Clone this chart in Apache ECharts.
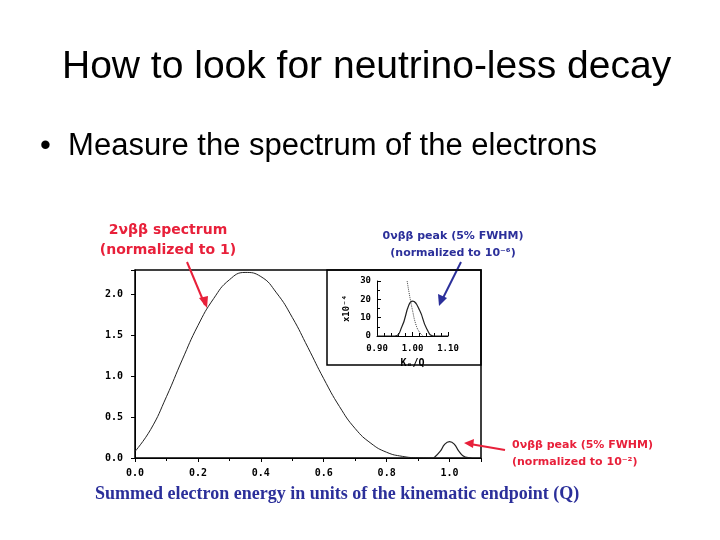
<!DOCTYPE html>
<html lang="en">
<head>
<meta charset="UTF-8">
<title>Neutrino-less decay</title>
<script src="https://cdn.jsdelivr.net/npm/echarts@6/dist/echarts.min.js"></script>
<style>
    *{margin:0;padding:0;}
    html,body{width:100%;height:100%;background:#fff;}
    .main{width:720px;height:540px;}
</style>
</head>
<body>
<div class="main"></div>
<script>
    // 2vbb spectrum (x in units of Q)
    let specX = [0,0.05,0.1,0.15,0.2,0.25,0.3,0.35,0.4,0.45,0.5,0.55,0.6,0.65,0.7,0.75,0.8,0.85,0.9,0.95];
    let specY = [0.08,0.35,0.75,1.2,1.62,1.95,2.18,2.27,2.22,2.02,1.72,1.35,0.97,0.63,0.36,0.18,0.07,0.02,0.003,0.0];
    // 0vbb peak
    let peakX = [0.95,0.97,0.985,1.0,1.015,1.03,1.05,1.07];
    let peakY = [0.0,0.08,0.17,0.2,0.17,0.08,0.01,0.0];
    // inset: zoom around Q
    let insetPeakX = [0.90,0.95,0.97,0.99,1.00,1.02,1.04,1.06,1.10];
    let insetPeakY = [0,0,5,17,19,14,4,0,0];
    let insetTailX = [0.985,0.99,1.0,1.01,1.02,1.03];
    let insetTailY = [30,24,14,6,2,0];
    let mainTicks = ['0.0','0.5','1.0','1.5','2.0'];

    let zip = (a, b) => a.map((v, i) => [v, b[i]]);
    let mono = {fontFamily: 'DejaVu Sans Mono', fontWeight: 'bold', color: '#000'};

    let chart = echarts.init(document.getElementsByClassName('main')[0]);
    let option = {
        animation: false,
        title: {
            text: 'How to look for neutrino-less decay',
            left: 57, top: 43,
            textStyle: {fontFamily: 'Liberation Sans', fontWeight: 'normal', fontSize: 39, color: '#000'}
        },
        grid: [
            {left: 135, top: 270, width: 346, height: 188, show: true, borderColor: '#000', borderWidth: 1.5},
            {left: 377, top: 281, width: 71, height: 55}
        ],
        xAxis: [
            {gridIndex: 0, type: 'value', min: 0, max: 1.1, interval: 0.2,
             axisLine: {lineStyle: {color: '#000'}}, splitLine: {show: false},
             axisTick: {length: 4}, minorTick: {show: true, splitNumber: 2},
             axisLabel: Object.assign({fontSize: 10, formatter: v => v.toFixed(1),
                 showMaxLabel: false, margin: 10}, mono)},
            {gridIndex: 1, type: 'value', min: 0.9, max: 1.1, interval: 0.1,
             axisLine: {lineStyle: {color: '#000'}}, splitLine: {show: false},
             axisTick: {length: 4, inside: true}, minorTick: {show: true, splitNumber: 5},
             name: 'Kₑ/Q', nameLocation: 'middle', nameGap: 22,
             nameTextStyle: Object.assign({fontSize: 10}, mono),
             axisLabel: Object.assign({fontSize: 9, formatter: v => v.toFixed(2)}, mono)}
        ],
        yAxis: [
            {gridIndex: 0, type: 'value', min: 0, max: 2.3, interval: 0.5,
             axisLine: {lineStyle: {color: '#000'}}, splitLine: {show: false},
             axisTick: {length: 4},
             axisLabel: Object.assign({fontSize: 10, margin: 12,
                 formatter: v => mainTicks[Math.round(v * 2)]}, mono)},
            {gridIndex: 1, type: 'value', min: 0, max: 30, interval: 10,
             axisLine: {show: true, lineStyle: {color: '#000'}}, splitLine: {show: false},
             axisTick: {length: 4, inside: true}, minorTick: {show: true, splitNumber: 2},
             name: 'x10⁻⁴', nameLocation: 'middle', nameGap: 26, nameRotate: 90,
             nameTextStyle: Object.assign({fontSize: 9}, mono),
             axisLabel: Object.assign({fontSize: 9, margin: 6}, mono)}
        ],
        graphic: [
            {type: 'text', left: 40, top: 131,
             style: {text: '•  Measure the spectrum of the electrons', fontFamily: 'Liberation Sans',
                     fontSize: 31, fill: '#000'}},
            {type: 'rect', shape: {x: 327, y: 270, width: 154, height: 95},
             style: {fill: 'rgba(255,255,255,0)', stroke: '#000', lineWidth: 1.5}, z: 5},
            {type: 'text', x: 110, y: 220,
             style: {text: '2νββ spectrum\n(normalized to 1)', fontFamily: 'DejaVu Sans', fontWeight: 'bold',
                     fontSize: 14, lineHeight: 20, fill: '#e8203a', align: 'center', x: 58}},
            {type: 'line', shape: {x1: 187, y1: 262, x2: 205, y2: 305},
             style: {stroke: '#e8203a', lineWidth: 2}},
            {type: 'polygon', shape: {points: [[207, 308], [199, 298], [208, 296]]},
             style: {fill: '#e8203a'}},
            {type: 'text', x: 453, y: 228,
             style: {text: '0νββ peak (5% FWHM)\n(normalized to 10⁻⁶)', fontFamily: 'DejaVu Sans',
                     fontWeight: 'bold', fontSize: 11, lineHeight: 17, fill: '#2b2f9a', align: 'center'}},
            {type: 'line', shape: {x1: 461, y1: 262, x2: 442, y2: 300},
             style: {stroke: '#2b2f9a', lineWidth: 2}},
            {type: 'polygon', shape: {points: [[439, 306], [438, 294], [447, 298]]},
             style: {fill: '#2b2f9a'}},
            {type: 'text', x: 512, y: 437,
             style: {text: '0νββ peak (5% FWHM)\n(normalized to 10⁻²)', fontFamily: 'DejaVu Sans',
                     fontWeight: 'bold', fontSize: 11, lineHeight: 17, fill: '#e8203a'}},
            {type: 'line', shape: {x1: 505, y1: 450, x2: 470, y2: 444},
             style: {stroke: '#e8203a', lineWidth: 2}},
            {type: 'polygon', shape: {points: [[464, 443], [474, 439], [473, 448]]},
             style: {fill: '#e8203a'}},
            {type: 'text', x: 95, y: 485,
             style: {text: 'Summed electron energy in units of the kinematic endpoint (Q)',
                     fontFamily: 'Liberation Serif', fontWeight: 'bold', fontSize: 18, fill: '#2b2f9a'}}
        ],
        series: [
            {type: 'line', xAxisIndex: 0, yAxisIndex: 0, data: zip(specX, specY), smooth: true,
             symbol: 'none', lineStyle: {color: '#222', width: 1}},
            {type: 'line', xAxisIndex: 0, yAxisIndex: 0, data: zip(peakX, peakY), smooth: true,
             symbol: 'none', lineStyle: {color: '#222', width: 1.2}},
            {type: 'line', xAxisIndex: 1, yAxisIndex: 1, data: zip(insetPeakX, insetPeakY), smooth: true,
             symbol: 'none', lineStyle: {color: '#222', width: 1.2}},
            {type: 'line', xAxisIndex: 1, yAxisIndex: 1, data: zip(insetTailX, insetTailY), smooth: true,
             symbol: 'none', lineStyle: {color: '#444', width: 1, type: 'dotted'}}
        ]
    };
    chart.setOption(option);
</script>
</body>
</html>
